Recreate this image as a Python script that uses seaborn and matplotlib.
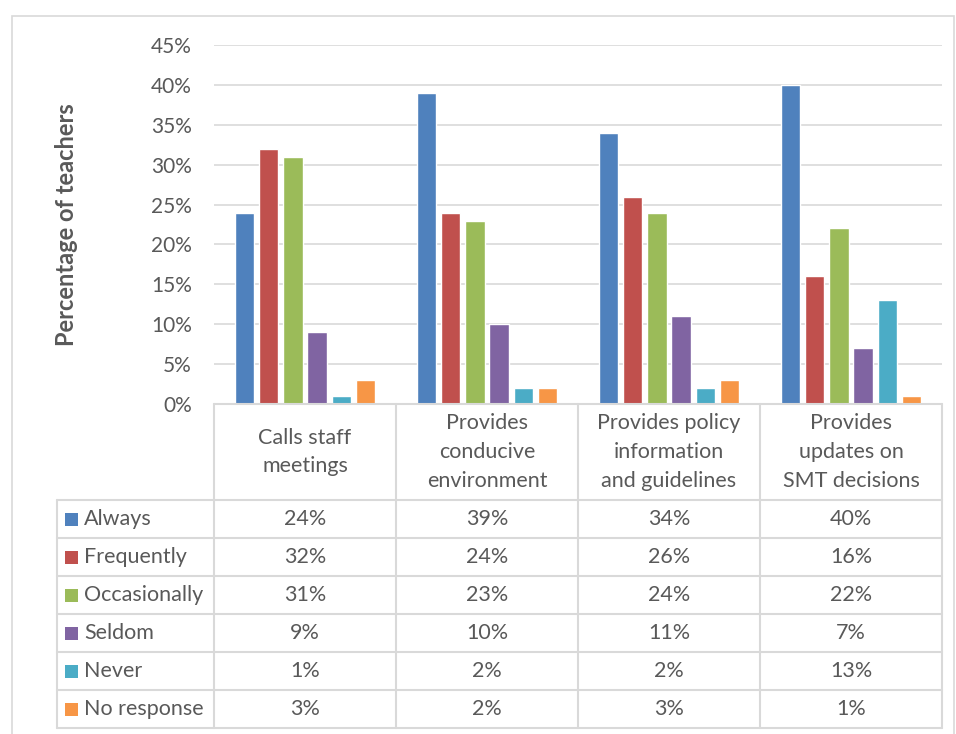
import matplotlib
matplotlib.use("Agg")
import matplotlib.pyplot as plt
from matplotlib.patches import Rectangle
from matplotlib.ticker import PercentFormatter
import pandas as pd
import seaborn as sns

# === Data ===
categories = ["Calls staff meetings", "Provides conducive environment",
              "Provides policy information and guidelines", "Provides updates on SMT decisions"]
header_labels = ["Calls staff\nmeetings", "Provides\nconducive\nenvironment",
                 "Provides policy\ninformation\nand guidelines", "Provides\nupdates on\nSMT decisions"]
responses = ["Always", "Frequently", "Occasionally", "Seldom", "Never", "No response"]
always = [24, 39, 34, 40]
frequently = [32, 24, 26, 16]
occasionally = [31, 23, 24, 22]
seldom = [9, 10, 11, 7]
never = [1, 2, 2, 13]
no_response = [3, 2, 3, 1]
y_ticks = [0, 5, 10, 15, 20, 25, 30, 35, 40, 45]

colors = ["#4F81BD", "#C0504D", "#9BBB59", "#8064A2", "#4BACC6", "#F79646"]
text_color = "#595959"
line_color = "#d9d9d9"

series = [always, frequently, occasionally, seldom, never, no_response]
df = pd.DataFrame([
    {"category": c, "response": r, "value": v}
    for r, vals in zip(responses, series)
    for c, v in zip(categories, vals)
])

# === Figure ===
sns.set_theme(style="white")
plt.rcParams["font.family"] = ["Lato", "DejaVu Sans"]

W, H = 956, 734
fig = plt.figure(figsize=(W / 100, H / 100), dpi=100)

def fig_rect(x0, y0, x1, y1):
    return [x0 / W, 1 - y1 / H, (x1 - x0) / W, (y1 - y0) / H]

# outer chart border
fig.patches.append(Rectangle((12 / W, -0.02), (954 - 12) / W, 1 - 16 / H + 0.02,
                             transform=fig.transFigure, fill=False,
                             edgecolor=line_color, lw=1.2))

ax = fig.add_axes(fig_rect(214, 45, 942, 404))
sns.barplot(data=df, x="category", y="value", hue="response", order=categories,
            hue_order=responses, palette=colors, width=0.8, gap=0.2,
            saturation=1, legend=False, ax=ax)
ax.set_ylim(0, 45)
ax.set_xlim(-0.5, len(categories) - 0.5)
ax.set_yticks(y_ticks)
ax.yaxis.set_major_formatter(PercentFormatter(decimals=0))
ax.tick_params(axis="y", length=0, pad=16, labelsize=15, labelcolor=text_color)
ax.set_xticks([])
ax.set_xlabel("")
ax.set_ylabel("Percentage of teachers", fontsize=17, fontweight="bold",
              color=text_color)
ax.yaxis.set_label_coords(-136 / 728, 0.5)
ax.grid(axis="y", color=line_color, lw=1.2)
ax.set_axisbelow(True)
for s in ax.spines.values():
    s.set_visible(False)

# === Data table ===
legend_w = (214 - 57) / 182
header_h = 96
row_h = 38
n_rows = len(responses)
total_h = header_h + n_rows * row_h

tab = fig.add_axes(fig_rect(57, 404, 942, 404 + total_h))
tab.set_xlim(-0.5 - legend_w, len(categories) - 0.5)
tab.set_ylim(total_h, 0)
tab.axis("off")

lkw = dict(color=line_color, lw=1.5, clip_on=False)
tab.plot([-0.5, len(categories) - 0.5], [0, 0], **lkw)
for i in range(len(categories) + 1):
    tab.plot([i - 0.5, i - 0.5], [0, total_h], **lkw)
tab.plot([-0.5 - legend_w] * 2, [header_h, total_h], **lkw)
for j in range(n_rows + 1):
    y = header_h + j * row_h
    tab.plot([-0.5 - legend_w, len(categories) - 0.5], [y, y], **lkw)

fs = 15.5
for i, lab in enumerate(header_labels):
    tab.text(i, header_h / 2, lab, ha="center", va="center", fontsize=fs,
             color=text_color, linespacing=1.55)

for j, (r, vals, col) in enumerate(zip(responses, series, colors)):
    yc = header_h + j * row_h + row_h / 2
    tab.add_patch(Rectangle((-0.5 - legend_w + 8 / 182, yc - 6.5), 13 / 182, 13,
                            facecolor=col, edgecolor="none"))
    tab.text(-0.5 - legend_w + 27 / 182, yc, r, ha="left", va="center",
             fontsize=fs, color=text_color)
    for i, v in enumerate(vals):
        tab.text(i, yc, f"{v}%", ha="center", va="center", fontsize=fs,
                 color=text_color)

fig.savefig("out.png", dpi=100)
